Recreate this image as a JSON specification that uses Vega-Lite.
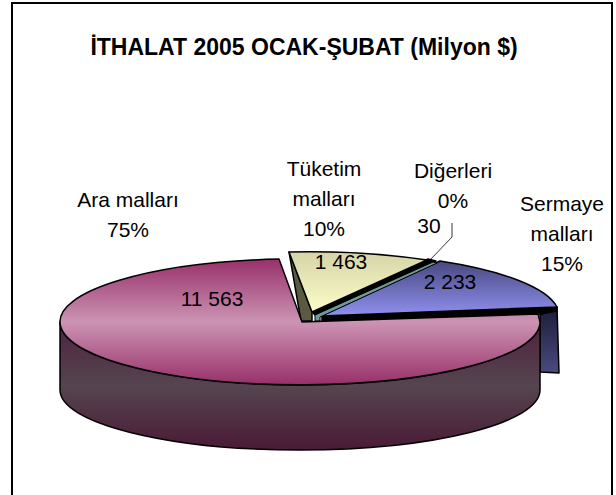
{"$schema":"https://vega.github.io/schema/vega-lite/v6.json","width":600,"height":493,"padding":{"left":12,"top":3,"right":4,"bottom":0},"autosize":"none","background":"white","view":{"stroke":"black","strokeWidth":2,"fill":"white"},"title":{"text":"İTHALAT 2005 OCAK-ŞUBAT (Milyon $)","font":"Liberation Sans","fontSize":23,"fontWeight":"bold","color":"black","anchor":"middle","offset":-57,"dx":-8},"data":{"values":[{"kategori":"Sermaye malları","deger":2233,"degerMetni":"2 233","pay":15,"etiket":"Sermaye\nmalları\n15%"},{"kategori":"Diğerleri","deger":30,"degerMetni":"30","pay":0,"etiket":"Diğerleri\n0%"},{"kategori":"Tüketim malları","deger":1463,"degerMetni":"1 463","pay":10,"etiket":"Tüketim\nmalları\n10%"},{"kategori":"Ara malları","deger":11563,"degerMetni":"11 563","pay":75,"etiket":"Ara malları\n75%"}]},"encoding":{"x":{"datum":300,"type":"quantitative","scale":{"domain":[12,612],"nice":false,"zero":false},"axis":null},"y":{"datum":322,"type":"quantitative","scale":{"domain":[496,3],"nice":false,"zero":false},"axis":null}},"layer":[{"transform":[{"filter":"datum.kategori === 'Sermaye malları'"}],"layer":[{"mark":{"type":"point","filled":true,"opacity":1,"size":4,"stroke":"black","strokeWidth":1.5,"strokeJoin":"round","shape":"M240,-7 L257,-15 L259,51 L240,50 Z","fill":{"gradient":"linear","x1":0,"y1":0,"x2":0,"y2":1,"stops":[{"offset":0,"color":"#1c1c38"},{"offset":1,"color":"#4a4a80"}]}}},{"mark":{"type":"point","filled":true,"opacity":1,"size":4,"stroke":"black","strokeWidth":1.5,"strokeJoin":"round","shape":"M22,-6 L257,-15 L257,-11 L240,-8 L22,-1 Z","fill":"black"}},{"mark":{"type":"point","filled":true,"opacity":1,"size":4,"stroke":"black","strokeWidth":1.5,"strokeJoin":"round","shape":"M21,-6 L140,-61 A240,63 0 0 1 257,-15 Z","fill":{"gradient":"linear","x1":0,"y1":0,"x2":0,"y2":1,"stops":[{"offset":0,"color":"#484880"},{"offset":1,"color":"#9090f0"}]}}}]},{"transform":[{"filter":"datum.kategori === 'Diğerleri'"}],"layer":[{"mark":{"type":"point","filled":true,"opacity":1,"size":4,"stroke":"black","strokeWidth":1.5,"strokeJoin":"round","shape":"M13,-9 L128,-63 L136,-61 L17,-5 Z","fill":"black"}},{"mark":{"type":"point","filled":true,"opacity":1,"size":4,"stroke":"black","strokeWidth":1,"strokeJoin":"round","shape":"M15,-7 L133,-60 L137,-59 L20,-5 L20,-1 L15,-1 Z","fill":"#6f9a9a"}},{"mark":{"type":"point","filled":false,"opacity":1,"size":4,"stroke":"black","strokeWidth":0.8,"shape":"M152,-99 L152,-85 L130,-62"}}]},{"transform":[{"filter":"datum.kategori === 'Tüketim malları'"}],"layer":[{"mark":{"type":"point","filled":true,"opacity":1,"size":4,"stroke":"black","strokeWidth":1.5,"strokeJoin":"round","shape":"M-11,-70 L1,-1 L12,-1 L12,-10 Z","fill":"#5a5a40"}},{"mark":{"type":"point","filled":true,"opacity":1,"size":4,"stroke":"black","strokeWidth":1.5,"strokeJoin":"round","shape":"M-11,-70 L12,-10 L127,-62 A240,63 0 0 0 -11,-70 Z","fill":{"gradient":"linear","x1":0,"y1":0,"x2":0,"y2":1,"stops":[{"offset":0,"color":"#d4d4a8"},{"offset":1,"color":"#fdfdc8"}]}}}]},{"transform":[{"filter":"datum.kategori === 'Ara malları'"}],"layer":[{"mark":{"type":"point","filled":true,"opacity":1,"size":4,"stroke":"black","strokeWidth":1.5,"strokeJoin":"round","shape":"M-240,0 A240,63 0 0 0 240,0 L240,68 A240,60 0 0 1 -240,68 Z","fill":{"gradient":"linear","x1":0,"y1":0,"x2":0,"y2":1,"stops":[{"offset":0,"color":"#4f2240"},{"offset":0.5,"color":"#55454f"},{"offset":1,"color":"#4a1a36"}]}}},{"mark":{"type":"point","filled":true,"opacity":1,"size":4,"stroke":"black","strokeWidth":1.5,"strokeJoin":"round","shape":"M-21,-63 A240,63 0 1 0 240,0 L238,-8 L2,0 Z","fill":{"gradient":"linear","x1":0,"y1":0,"x2":0,"y2":1,"stops":[{"offset":0,"color":"#98306a"},{"offset":0.5,"color":"#cc94b4"},{"offset":1,"color":"#98306a"}]}}}]},{"transform":[{"filter":"datum.kategori === 'Ara malları'"}],"layer":[{"mark":{"type":"text","font":"Liberation Sans","fontSize":21,"color":"black","lineBreak":"\n","lineHeight":30,"baseline":"top"},"encoding":{"text":{"field":"etiket"},"x":{"datum":128},"y":{"datum":190}}},{"mark":{"type":"text","font":"Liberation Sans","fontSize":21,"color":"black"},"encoding":{"text":{"field":"degerMetni"},"x":{"datum":212},"y":{"datum":300}}}]},{"transform":[{"filter":"datum.kategori === 'Tüketim malları'"}],"layer":[{"mark":{"type":"text","font":"Liberation Sans","fontSize":21,"color":"black","lineBreak":"\n","lineHeight":30,"baseline":"top"},"encoding":{"text":{"field":"etiket"},"x":{"datum":324},"y":{"datum":159}}},{"mark":{"type":"text","font":"Liberation Sans","fontSize":21,"color":"black"},"encoding":{"text":{"field":"degerMetni"},"x":{"datum":341},"y":{"datum":263}}}]},{"transform":[{"filter":"datum.kategori === 'Diğerleri'"}],"layer":[{"mark":{"type":"text","font":"Liberation Sans","fontSize":21,"color":"black","lineBreak":"\n","lineHeight":30,"baseline":"top"},"encoding":{"text":{"field":"etiket"},"x":{"datum":453},"y":{"datum":161}}},{"mark":{"type":"text","font":"Liberation Sans","fontSize":21,"color":"black"},"encoding":{"text":{"field":"degerMetni"},"x":{"datum":429},"y":{"datum":227}}}]},{"transform":[{"filter":"datum.kategori === 'Sermaye malları'"}],"layer":[{"mark":{"type":"text","font":"Liberation Sans","fontSize":21,"color":"black","lineBreak":"\n","lineHeight":30,"baseline":"top"},"encoding":{"text":{"field":"etiket"},"x":{"datum":562},"y":{"datum":194}}},{"mark":{"type":"text","font":"Liberation Sans","fontSize":21,"color":"black"},"encoding":{"text":{"field":"degerMetni"},"x":{"datum":450},"y":{"datum":283}}}]}]}
